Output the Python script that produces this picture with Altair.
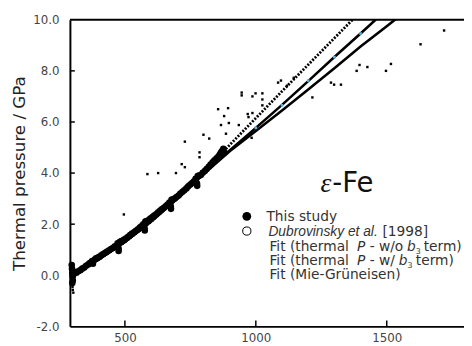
import altair as alt
import pandas as pd

# ---------------- data ----------------
x_ticks = [500, 1000, 1500]
y_ticks = [-2, 0, 2, 4, 6, 8, 10]

# This study (filled circles)
study_T = [297, 298, 299, 300, 301, 299, 302, 303,
           315, 330, 345, 360, 370, 375, 378, 385, 395, 410, 425, 440, 455, 468, 472, 476, 480, 490,
           505, 520, 535, 550, 563, 570, 575, 578, 590, 605, 620, 635, 650, 663, 670, 675, 678, 690,
           705, 720, 735, 750, 763, 770, 775, 778, 790, 805, 820, 835, 850, 862, 870, 876, 880,
           476, 576, 676, 776,
           307, 322, 337, 352, 365, 390, 402, 417, 432, 447, 462, 485, 497, 512, 527, 542, 557,
           583, 597, 612, 627, 642, 657, 683, 697, 712, 727, 742, 757, 783, 797, 812, 827, 842, 857, 866]
study_P = [0.40, 0.25, 0.10, -0.05, -0.20, -0.30, 0.00, 0.15,
           0.10, 0.20, 0.30, 0.42, 0.50, 0.56, 0.45, 0.62, 0.68, 0.78, 0.88, 0.98, 1.08, 1.15, 1.25, 1.05, 1.30, 1.35,
           1.45, 1.57, 1.68, 1.80, 1.92, 2.00, 1.85, 2.10, 2.15, 2.28, 2.40, 2.53, 2.65, 2.77, 2.85, 2.70, 2.95, 3.00,
           3.12, 3.27, 3.40, 3.55, 3.67, 3.78, 3.60, 3.88, 3.92, 4.08, 4.25, 4.42, 4.58, 4.72, 4.85, 4.95, 4.80,
           0.95, 1.75, 2.60, 3.50,
           0.08, 0.16, 0.26, 0.37, 0.47, 0.66, 0.72, 0.83, 0.93, 1.03, 1.13, 1.33, 1.40, 1.51, 1.63, 1.74, 1.87,
           2.12, 2.22, 2.34, 2.46, 2.59, 2.71, 2.97, 3.06, 3.20, 3.33, 3.48, 3.61, 3.90, 4.01, 4.16, 4.33, 4.50, 4.65, 4.78]

# scattered small points
scat_T = [856, 894, 879, 867, 897, 886, 800, 822, 729, 785, 785, 717, 729, 586, 627, 695, 496,
          1719, 1629, 1396, 1426, 1385, 1497, 1516, 1287, 1299, 1325, 1216, 1085, 1096, 1145, 1119,
          946, 946, 987, 999, 1025, 1025, 1025, 935, 969, 972, 987, 984, 300, 301, 303]
scat_P = [6.50, 6.54, 6.23, 5.88, 5.96, 5.54, 5.50, 5.35, 5.23, 4.81, 4.62, 4.35, 4.23, 3.96, 4.00, 4.00, 2.38,
          9.58, 9.04, 8.23, 8.15, 8.00, 8.00, 8.27, 7.54, 7.46, 7.46, 6.96, 7.54, 7.62, 7.73, 7.42,
          7.15, 7.04, 7.00, 7.12, 7.12, 6.88, 6.65, 5.88, 6.31, 6.19, 6.35, 5.38, -0.45, -0.57, -0.68]

# fit curves
fit_T = [300, 400, 500, 600, 700, 800, 900, 1000, 1100, 1200, 1300, 1400, 1500, 1600]
fit_mg = [0.0, 0.62, 1.30, 2.10, 3.00, 4.02, 5.10, 6.15, 7.20, 8.24, 9.28, 10.32, 11.4, 12.4]
fit_w_b3 = [0.0, 0.62, 1.30, 2.10, 3.00, 3.98, 4.88, 5.77, 6.67, 7.60, 8.54, 9.46, 10.4, 11.3]
fit_wo_b3 = [0.0, 0.62, 1.30, 2.10, 3.00, 3.95, 4.85, 5.65, 6.45, 7.27, 8.10, 8.95, 9.75, 10.55]

blue_T = [1000, 1100, 1200, 1300, 1400]
blue_P = [5.77, 6.65, 7.62, 8.54, 9.46]

# ---------------- chart ----------------
W, H = 401, 312
xs = alt.Scale(domain=[290, 1795], nice=False, zero=False)
ys = alt.Scale(domain=[-2, 10], nice=False, zero=False)

one = pd.DataFrame({"a": [0]})

xaxis = alt.Axis(values=x_ticks, format="d", ticks=False, grid=False, title=None, domainColor="black",
                 domainWidth=2, labelFont="DejaVu Sans", labelFontSize=12, labelColor="#444",
                 labelPadding=6, labelFlush=False)
yaxis = alt.Axis(values=y_ticks, ticks=False, grid=False, domainColor="black", domainWidth=2,
                 labelExpr="datum.value < 0 ? '-' + format(-datum.value, '.1f') : format(datum.value, '.1f')",
                 labelFont="DejaVu Sans", labelFontSize=12, labelColor="#444", labelPadding=11,
                 title="Thermal pressure / GPa", titleFont="DejaVu Sans", titleFontSize=17,
                 titleFontWeight="normal", titleColor="#222", titleX=-51, titleY=156,
                 titleAlign="center", titleBaseline="middle", titleAngle=-90)

fits = pd.DataFrame({
    "T": fit_T * 3,
    "P": fit_mg + fit_w_b3 + fit_wo_b3,
    "fit": ["mg"] * len(fit_T) + ["wb3"] * len(fit_T) + ["wob3"] * len(fit_T),
})

line_mg = alt.Chart(fits[fits.fit == "mg"]).mark_line(
    color="black", strokeWidth=2.8, strokeDash=[2, 1.5], clip=True
).encode(x=alt.X("T:Q", scale=xs, axis=xaxis), y=alt.Y("P:Q", scale=ys, axis=yaxis))
line_w = alt.Chart(fits[fits.fit == "wb3"]).mark_line(
    color="black", strokeWidth=2.6, clip=True
).encode(x=alt.X("T:Q", scale=xs), y=alt.Y("P:Q", scale=ys))
line_wo = alt.Chart(fits[fits.fit == "wob3"]).mark_line(
    color="black", strokeWidth=2.6, clip=True
).encode(x=alt.X("T:Q", scale=xs), y=alt.Y("P:Q", scale=ys))

study = alt.Chart(pd.DataFrame({"T": study_T, "P": study_P})).mark_circle(
    color="black", size=45, opacity=1
).encode(x=alt.X("T:Q", scale=xs), y=alt.Y("P:Q", scale=ys))

scat = alt.Chart(pd.DataFrame({"T": scat_T, "P": scat_P})).mark_square(
    color="black", size=6, opacity=1
).encode(x=alt.X("T:Q", scale=xs), y=alt.Y("P:Q", scale=ys))

blue = alt.Chart(pd.DataFrame({"T": blue_T, "P": blue_P})).mark_square(
    color="#5ab4e6", size=7, opacity=1
).encode(x=alt.X("T:Q", scale=xs), y=alt.Y("P:Q", scale=ys))

top_line = alt.Chart(one).mark_rule(color="black", strokeWidth=2).encode(
    x=alt.value(0), x2=alt.value(W), y=alt.value(0))

ytick = alt.Chart(pd.DataFrame({"P": y_ticks[1:-1]})).mark_rule(color="black", strokeWidth=1.5).encode(
    y=alt.Y("P:Q", scale=ys), x=alt.value(0), x2=alt.value(5))
xtick = alt.Chart(pd.DataFrame({"T": x_ticks})).mark_rule(color="black", strokeWidth=1.5).encode(
    x=alt.X("T:Q", scale=xs), y=alt.value(H), y2=alt.value(H - 6))


def txt(s, x, y, size=14, italic=False, font="DejaVu Sans", color="#333"):
    return alt.Chart(one).mark_text(
        text=s, align="left", baseline="alphabetic", fontSize=size, font=font,
        fontStyle="italic" if italic else "normal", color=color
    ).encode(x=alt.value(x), y=alt.value(y))


legend = [
    txt("\u03b5", 255, 175, size=28, italic=True, font="Liberation Serif", color="#111"),
    txt("-Fe", 267, 175, size=28, color="#111"),
    alt.Chart(one).mark_point(shape="circle", filled=True, color="black", size=80, opacity=1).encode(
        x=alt.value(180), y=alt.value(200)),
    alt.Chart(one).mark_point(shape="circle", filled=False, color="black", size=70, strokeWidth=1, opacity=1).encode(
        x=alt.value(180), y=alt.value(215)),
    txt("This study", 200, 205),
    txt("Dubrovinsky et al.", 202, 220, italic=True, font="Liberation Sans"),
    txt("[1998]", 318, 220),
    txt("Fit (thermal", 203, 235),
    txt("P", 292, 235, italic=True),
    txt("- w/o", 305, 235),
    txt("b", 343, 235, italic=True),
    txt("3", 352, 238, size=8),
    txt("term)", 360, 235),
    txt("Fit (thermal", 203, 249.5),
    txt("P", 292, 249.5, italic=True),
    txt("- w/", 305, 249.5),
    txt("b", 334.5, 249.5, italic=True),
    txt("3", 343.5, 252.5, size=8),
    txt("term)", 352, 249.5),
    txt("Fit (Mie-Gr\u00fcneisen)", 203, 264),
]

chart = alt.layer(
    line_mg, line_w, line_wo, study, scat, blue, top_line, ytick, xtick, *legend
).properties(
    width=W, height=H,
    autosize=alt.AutoSizeParams(type="none"),
    padding={"left": 63, "top": 9, "right": 0, "bottom": 17},
).configure_view(stroke=None)

chart.save("out.html", embed_options={"renderer": "svg", "actions": False})
